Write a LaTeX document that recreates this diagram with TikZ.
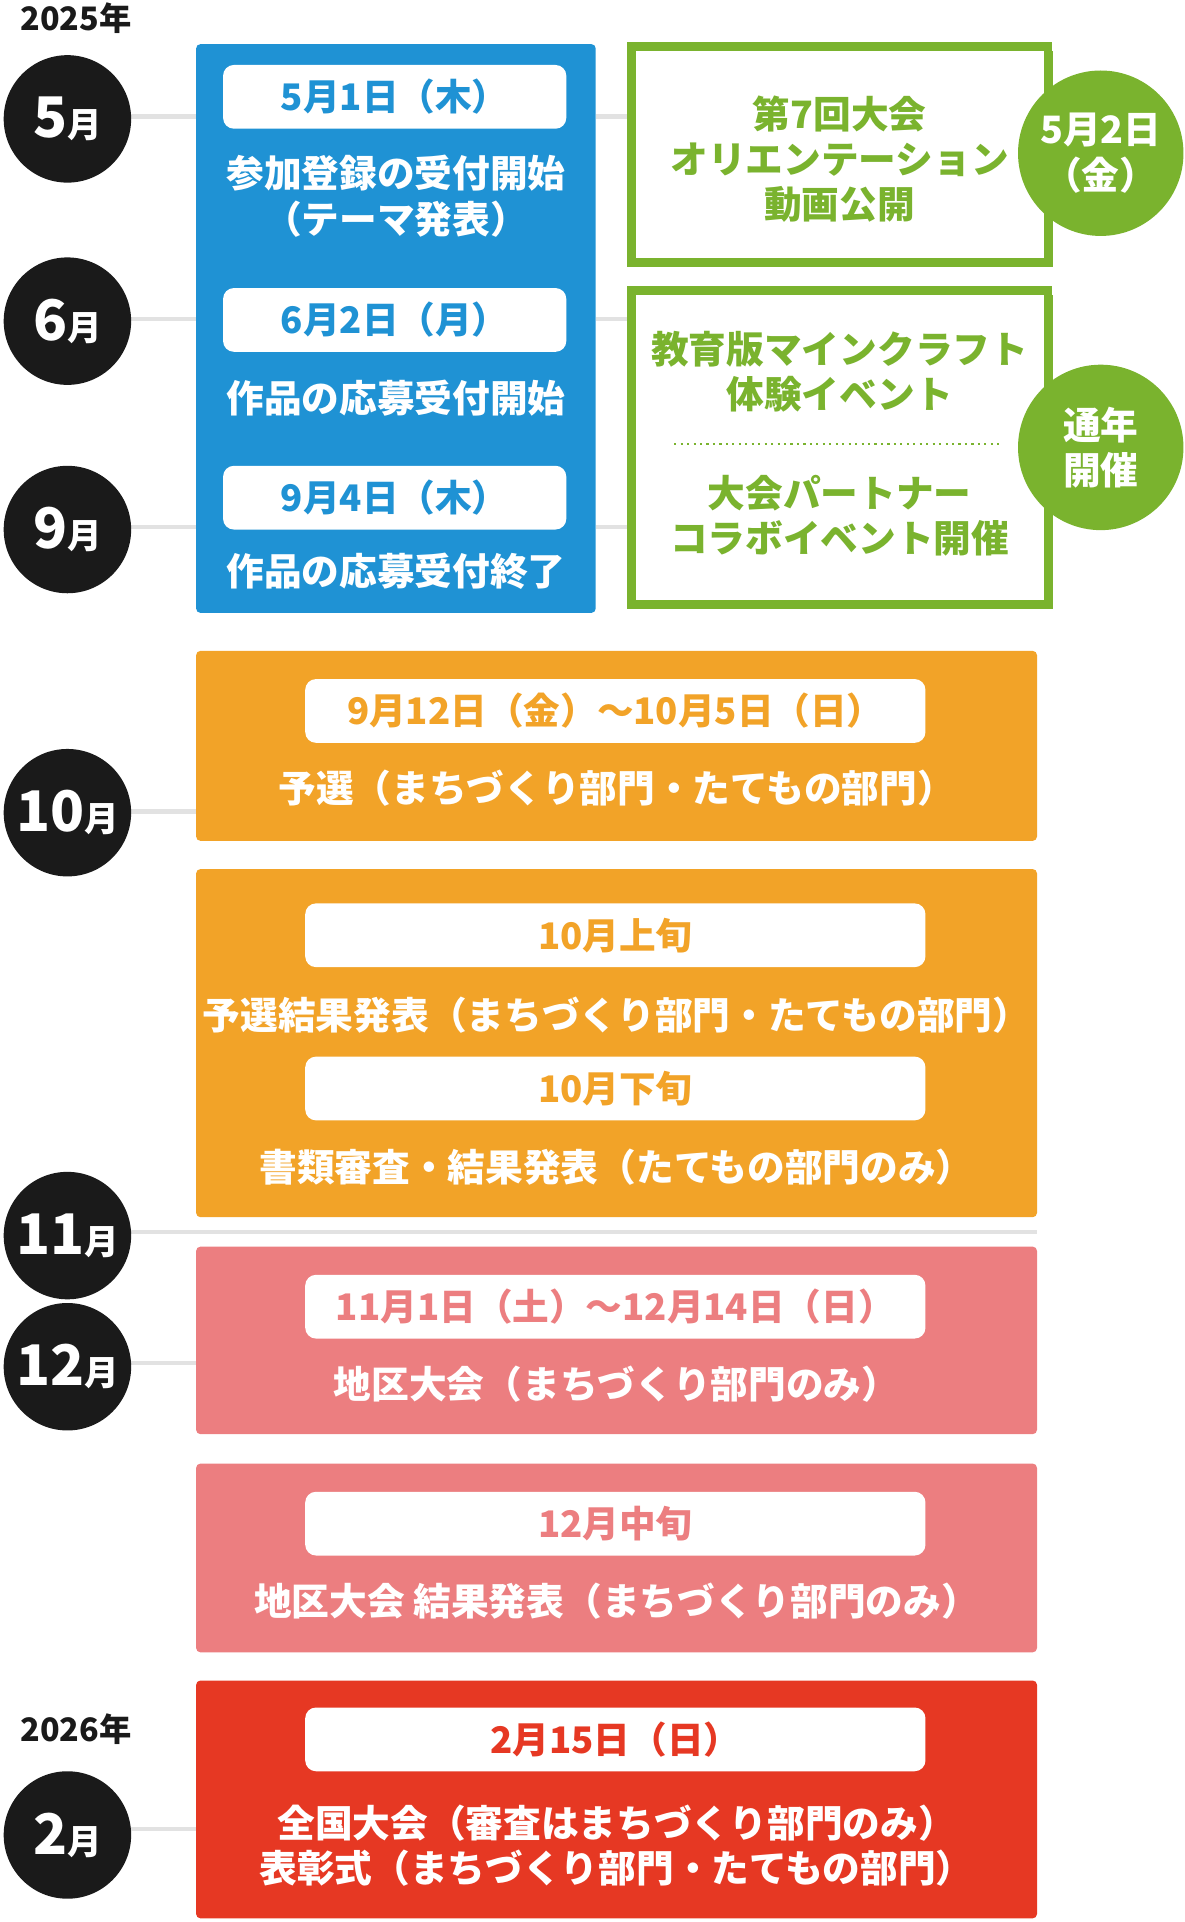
\documentclass[tikz,border=0pt]{standalone}
\usepackage{fontspec}
\setmainfont{Noto Sans CJK JP}
\usetikzlibrary{positioning}
\definecolor{ink}{HTML}{1A1A1A}
\definecolor{kblue}{HTML}{1F92D4}
\definecolor{kgreen}{HTML}{7AB32E}
\definecolor{korange}{HTML}{F2A328}
\definecolor{kpink}{HTML}{EC7E80}
\definecolor{kred}{HTML}{E63823}
\definecolor{kgray}{HTML}{E2E2E2}
\tikzset{
  month/.style={circle, fill=ink, minimum size=2.08cm, inner sep=0pt, text=white, font=\bfseries\fontsize{16}{16}\selectfont},
  year/.style={text=ink, font=\bfseries\fontsize{15}{15}\selectfont},
  pill/.style={rounded corners=5pt, fill=white},
  pilltext/.style={font=\bfseries\fontsize{17}{17}\selectfont},
  boxtext/.style={text=white, font=\bfseries\fontsize{17.5}{21}\selectfont},
  greentext/.style={text=kgreen, font=\bfseries\fontsize{17.5}{21}\selectfont},
  gcircle/.style={circle, fill=kgreen, minimum size=2.7cm, inner sep=0pt, text=white, align=center, font=\bfseries\fontsize{17.5}{21}\selectfont},
  tline/.style={kgray, line width=2pt}
}
\newcommand{\mon}[1]{{\fontsize{26}{26}\selectfont #1}月}
\begin{document}
\begin{tikzpicture}[x=0.02cm, y=-0.02cm]
\useasboundingbox (0,0) rectangle (966,1568);
% connector lines
\foreach \yy in {95,260,430,662,1112,1492} \draw[tline] (100,\yy) -- (160,\yy);
\foreach \yy in {95,260,430} \draw[tline] (486,\yy) -- (516,\yy);
\draw[tline] (100,1005) -- (846,1005);
% months
\node[year] (y25) at (62,15) {2025年};
\node[month] (m5) at (55,97) {\mon{5}};
\node[month] (m6) at (55,262) {\mon{6}};
\node[month] (m9) at (55,432) {\mon{9}};
\node[month] (m10) at (55,663) {\mon{10}};
\node[month] (m11) at (55,1008) {\mon{11}};
\node[month] (m12) at (55,1115) {\mon{12}};
\node[year] (y26) at (62,1411) {2026年};
\node[month] (m2) at (55,1497) {\mon{2}};
% blue box
\fill[kblue, rounded corners=2pt] (160,36) rectangle (486,500);
\foreach \ya/\lbl in {53/5月1日（木）, 235/6月2日（月）, 380/9月4日（木）}
  \fill[pill] (182,\ya) rectangle (462,\ya+52) node[midway, pilltext, text=kblue] {\lbl};
\node[boxtext, align=center] (b1) at (323,160) {参加登録の受付開始\\（テーマ発表）};
\node[boxtext] (b2) at (323,325) {作品の応募受付開始};
\node[boxtext] (b3) at (323,466) {作品の応募受付終了};
% green boxes
\fill[kgreen] (519,42) rectangle (859,218);
\draw[kgreen, line width=4pt, fill=white] (515,38) rectangle (855,214);
\fill[kgreen] (519,241) rectangle (859,497);
\draw[kgreen, line width=4pt, fill=white] (515,237) rectangle (855,493);
\node[greentext, align=center] (g1) at (685,130) {第7回大会\\オリエンテーション\\動画公開};
\node[greentext, align=center] (g2) at (685,303) {教育版マインクラフト\\体験イベント};
\draw[kgreen, dotted, line width=1pt] (550,362) -- (818,362);
\node[greentext, align=center] (g3) at (685,421) {大会パートナー\\コラボイベント開催};
\node[gcircle] (c1) at (898,125) {5月2日\\（金）};
\node[gcircle] (c2) at (898,365) {通年\\開催};
% orange
\fill[korange, rounded corners=2pt] (160,531) rectangle (846,686);
\fill[pill] (249,554) rectangle (755,606) node[midway, pilltext, text=korange] {9月12日（金）〜10月5日（日）};
\node[boxtext] (o1) at (503,643) {予選（まちづくり部門・たてもの部門）};
\fill[korange, rounded corners=2pt] (160,709) rectangle (846,993);
\fill[pill] (249,737) rectangle (755,789) node[midway, pilltext, text=korange] {10月上旬};
\node[boxtext] (o2) at (503,828) {予選結果発表（まちづくり部門・たてもの部門）};
\fill[pill] (249,862) rectangle (755,914) node[midway, pilltext, text=korange] {10月下旬};
\node[boxtext] (o3) at (503,952) {書類審査・結果発表（たてもの部門のみ）};
% pink
\fill[kpink, rounded corners=2pt] (160,1017) rectangle (846,1170);
\fill[pill] (249,1040) rectangle (755,1092) node[midway, pilltext, text=kpink] {11月1日（土）〜12月14日（日）};
\node[boxtext] (p1) at (503,1129) {地区大会（まちづくり部門のみ）};
\fill[kpink, rounded corners=2pt] (160,1194) rectangle (846,1348);
\fill[pill] (249,1217) rectangle (755,1269) node[midway, pilltext, text=kpink] {12月中旬};
\node[boxtext] (p2) at (503,1306) {地区大会 結果発表（まちづくり部門のみ）};
% red
\fill[kred, rounded corners=2pt] (160,1371) rectangle (846,1565);
\fill[pill] (249,1393) rectangle (755,1445) node[midway, pilltext, text=kred] {2月15日（日）};
\node[boxtext, align=center] (r1) at (503,1506) {全国大会（審査はまちづくり部門のみ）\\表彰式（まちづくり部門・たてもの部門）};
\end{tikzpicture}
\end{document}
